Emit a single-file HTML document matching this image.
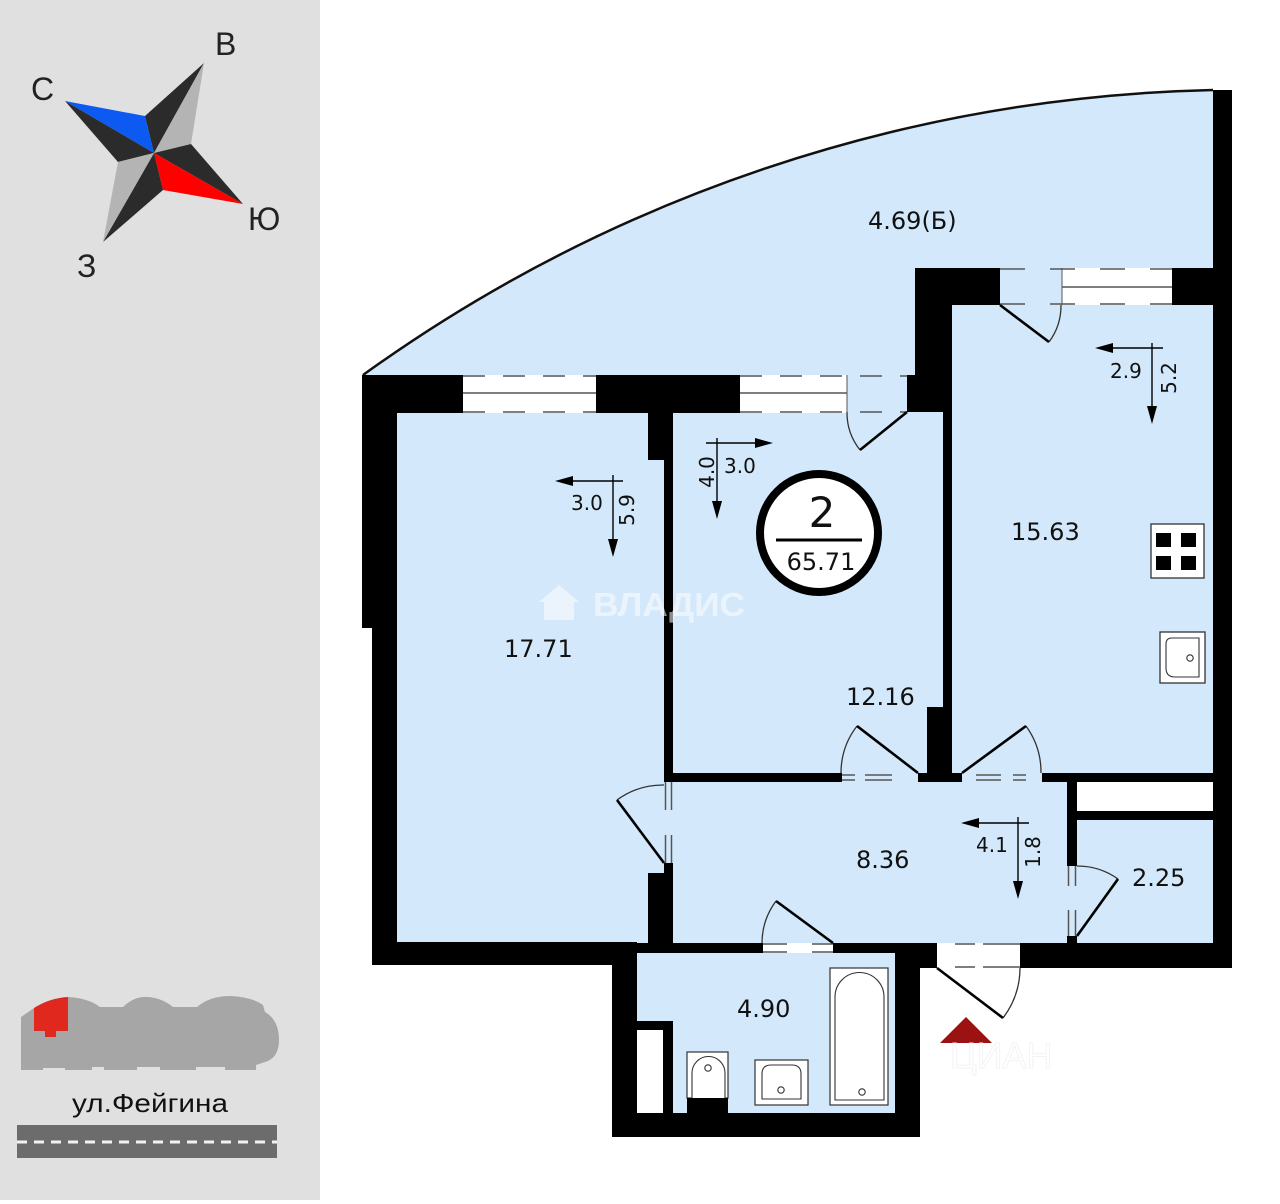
<!DOCTYPE html>
<html><head><meta charset="utf-8"><style>
html,body{margin:0;padding:0;background:#fff;}
svg{display:block;}
</style></head><body>
<svg width="1280" height="1204" viewBox="0 0 1280 1204" xmlns="http://www.w3.org/2000/svg">
<rect x="0" y="0" width="1280" height="1204" fill="#fff"/>
<!-- left panel -->
<rect x="0" y="0" width="320" height="1200" fill="#e0e0e0"/>
<!-- compass -->
<g>
<polygon points="65,101 145,116 154,153" fill="#0d5af2"/>
<polygon points="65,101 154,153 118,162" fill="#2b2b2b"/>
<polygon points="204,63 145,116 154,153" fill="#2b2b2b"/>
<polygon points="204,63 154,153 191,144" fill="#b4b4b4"/>
<polygon points="243,204 191,144 154,153" fill="#2b2b2b"/>
<polygon points="243,204 154,153 163,190" fill="#ff0000"/>
<polygon points="103,242 163,190 154,153" fill="#2b2b2b"/>
<polygon points="103,242 154,153 118,162" fill="#b4b4b4"/>
</g>
<g font-family="Liberation Sans, Arial, sans-serif" font-size="32" fill="#222">
<text x="31" y="100">С</text>
<text x="215" y="55">В</text>
<text x="248" y="230">Ю</text>
<text x="77" y="277">З</text>
</g>
<!-- building silhouette -->
<path d="M21,1070 L21,1017 L34,1008 Q50,998 68,997 Q88,998 100,1007 L123,1007 Q134,996 148,997 Q162,998 173,1007 L197,1007 Q210,996 230,996 Q252,997 263,1005 L265,1012 Q279,1020 279,1040 Q279,1058 265,1062 L256,1065 L256,1070 L225,1070 L225,1067 L196,1067 L196,1070 L160,1070 L160,1067 L137,1067 L137,1070 L104,1070 L104,1067 L92,1067 L92,1070 L65,1070 L65,1068 L43,1068 L43,1070 Z" fill="#a6a6a6"/>
<path d="M34,1008 Q50,998 68,997 L68,1031 L56,1031 L56,1037 L45,1037 L45,1031 L34,1031 Z" fill="#e0281e"/>
<text x="72" y="1112" font-family="Liberation Sans, Arial, sans-serif" font-size="26" fill="#111" textLength="156" lengthAdjust="spacingAndGlyphs">ул.Фейгина</text>
<rect x="17" y="1125" width="260" height="33" fill="#6c6c6c"/>
<line x1="17" y1="1142" x2="277" y2="1142" stroke="#f2f2f2" stroke-width="3" stroke-dasharray="10 7"/>

<!-- balcony -->
<path d="M363,375 A1512,1512 0 0 1 1213,90 L1213,268 L915,268 L915,375 Z" fill="#d3e8fa"/>
<path d="M363,375 A1512,1512 0 0 1 1213,90" fill="none" stroke="#111" stroke-width="2.5"/>
<text x="868" y="229" font-family="DejaVu Sans, Verdana, sans-serif" font-size="24" fill="#111">4.69(Б)</text>

<!-- interior fills -->
<rect x="397" y="412" width="816" height="531" fill="#d3e8fa"/>
<rect x="952" y="305" width="261" height="107" fill="#d3e8fa"/>
<rect x="637" y="953" width="258" height="160" fill="#d3e8fa"/>
<rect x="847" y="375" width="60" height="37" fill="#d3e8fa"/>
<rect x="1000" y="268" width="62" height="37" fill="#d3e8fa"/>

<!-- windows white -->
<rect x="463" y="375" width="133" height="38" fill="#fff"/>
<rect x="740" y="375" width="107" height="38" fill="#fff"/>
<rect x="1062" y="268" width="110" height="37" fill="#fff"/>
<rect x="1077" y="782" width="136" height="29" fill="#fff"/>
<rect x="937" y="943" width="83" height="25" fill="#fff"/>

<!-- walls -->
<g fill="#000">
<rect x="362" y="375" width="35" height="253"/>
<rect x="372" y="628" width="25" height="337"/>
<rect x="362" y="375" width="101" height="38"/>
<rect x="596" y="375" width="144" height="38"/>
<rect x="648" y="412" width="25" height="48"/>
<rect x="664" y="460" width="9" height="322"/>
<rect x="664" y="773" width="178" height="9"/>
<rect x="907" y="375" width="45" height="37"/>
<rect x="915" y="268" width="37" height="144"/>
<rect x="915" y="268" width="85" height="37"/>
<rect x="1172" y="268" width="60" height="37"/>
<rect x="1213" y="90" width="19" height="878"/>
<rect x="943" y="412" width="9" height="361"/>
<rect x="927" y="707" width="25" height="66"/>
<rect x="918" y="773" width="44" height="9"/>
<rect x="1042" y="773" width="190" height="9"/>
<rect x="1067" y="782" width="10" height="84"/>
<rect x="1067" y="811" width="146" height="9"/>
<rect x="1067" y="936" width="10" height="7"/>
<rect x="664" y="863" width="9" height="80"/>
<rect x="648" y="873" width="25" height="70"/>
<rect x="372" y="942" width="265" height="23"/>
<rect x="612" y="942" width="25" height="195"/>
<rect x="637" y="943" width="126" height="10"/>
<rect x="833" y="943" width="104" height="10"/>
<rect x="895" y="943" width="25" height="194"/>
<rect x="895" y="943" width="42" height="25"/>
<rect x="612" y="1113" width="308" height="24"/>
<rect x="1020" y="943" width="212" height="25"/>
<rect x="637" y="1021" width="36" height="92"/>
</g>
<rect x="637" y="1030" width="26" height="83" fill="#fff"/>

<!-- window / opening lines -->
<g stroke="#555" stroke-width="1.5" fill="none">
<line x1="463" y1="376" x2="596" y2="376" stroke-dasharray="22 18"/>
<line x1="463" y1="412" x2="596" y2="412" stroke-dasharray="22 18"/>
<line x1="463" y1="393" x2="596" y2="393"/>
<line x1="740" y1="376" x2="907" y2="376" stroke-dasharray="22 18"/>
<line x1="740" y1="412" x2="907" y2="412" stroke-dasharray="22 18"/>
<line x1="740" y1="393" x2="847" y2="393"/>
<line x1="847" y1="375" x2="847" y2="412" stroke-width="1"/>
<line x1="1000" y1="269" x2="1172" y2="269" stroke-dasharray="25 25"/>
<line x1="1000" y1="304" x2="1172" y2="304" stroke-dasharray="25 25"/>
<line x1="1062" y1="287" x2="1172" y2="287"/>
<line x1="1062" y1="268" x2="1062" y2="305" stroke-width="1"/>
<line x1="1077" y1="796" x2="1213" y2="796" stroke="#fff"/>
<!-- door openings double lines -->
<line x1="842" y1="775" x2="918" y2="775" stroke-dasharray="13 10 27 30"/>
<line x1="842" y1="780" x2="918" y2="780" stroke-dasharray="13 10 27 30"/>
<line x1="962" y1="775" x2="1042" y2="775" stroke-dasharray="0 14 25 12 13 20"/>
<line x1="962" y1="780" x2="1042" y2="780" stroke-dasharray="0 14 25 12 13 20"/>
<line x1="763" y1="944" x2="833" y2="944" stroke-dasharray="24 25 21 10"/>
<line x1="763" y1="952" x2="833" y2="952" stroke-dasharray="24 25 21 10"/>
<line x1="665.5" y1="782" x2="665.5" y2="863" stroke-dasharray="28 25 28"/>
<line x1="671.5" y1="782" x2="671.5" y2="863" stroke-dasharray="28 25 28"/>
<line x1="1068.5" y1="866" x2="1068.5" y2="936" stroke-dasharray="20 24 26"/>
<line x1="1075.5" y1="866" x2="1075.5" y2="936" stroke-dasharray="20 24 26"/>
<line x1="937" y1="944" x2="1020" y2="944" stroke-dasharray="0 18 20 8 37"/>
<line x1="937" y1="967" x2="1020" y2="967" stroke-dasharray="0 18 20 8 37"/>
</g>

<!-- door arcs -->
<g stroke="#333" stroke-width="1.3" fill="none">
<path d="M1049,342 A61,61 0 0 0 1061,305"/>
<path d="M860,450 A60,60 0 0 1 847,412"/>
<path d="M857,726 A77,77 0 0 0 841,773"/>
<path d="M1026,726 A79,79 0 0 1 1041,773"/>
<path d="M617,800 A78,78 0 0 1 664,785"/>
<path d="M776,901 A71,71 0 0 0 762,943"/>
<path d="M1118,879 A70,70 0 0 0 1077,866"/>
<path d="M1003,1018 A83,83 0 0 0 1020,968"/>
</g>
<!-- door leaves -->
<g stroke="#000" stroke-width="2.6" fill="none">
<line x1="1000" y1="305" x2="1049" y2="342"/>
<line x1="907" y1="412" x2="860" y2="450"/>
<line x1="918" y1="773" x2="857" y2="726"/>
<line x1="962" y1="773" x2="1026" y2="726"/>
<line x1="664" y1="863" x2="617" y2="800"/>
<line x1="833" y1="943" x2="776" y2="901"/>
<line x1="1077" y1="936" x2="1118" y2="879"/>
<line x1="937" y1="968" x2="1003" y2="1018"/>
</g>

<!-- kitchen fixtures -->
<rect x="1151" y="524" width="53" height="54" fill="#fff" stroke="#333" stroke-width="1.3"/>
<g fill="#000">
<rect x="1156" y="533" width="15" height="14"/>
<rect x="1181" y="533" width="15" height="14"/>
<rect x="1156" y="556" width="15" height="14"/>
<rect x="1181" y="556" width="15" height="14"/>
</g>
<rect x="1160" y="632" width="45" height="51" fill="#fff" stroke="#333" stroke-width="1.3"/>
<path d="M1172,638 H1199 V677 H1175 Q1166,677 1166,668 V644 Q1166,638 1172,638 Z" fill="#fff" stroke="#333" stroke-width="1.1"/>
<circle cx="1190" cy="658" r="3.2" fill="#fff" stroke="#333" stroke-width="1.1"/>

<!-- bath fixtures -->
<rect x="687" y="1052" width="41" height="46" fill="#fff" stroke="#333" stroke-width="1.2"/>
<rect x="687" y="1098" width="41" height="15" fill="#000"/>
<path d="M692,1098 V1073 A16.5,16.5 0 0 1 725,1073 V1098" fill="#fff" stroke="#333" stroke-width="1.1"/>
<circle cx="708" cy="1068" r="3.2" fill="#fff" stroke="#333" stroke-width="1.1"/>
<rect x="755" y="1060" width="53" height="45" fill="#fff" stroke="#333" stroke-width="1.2"/>
<path d="M762,1099 V1074 Q762,1065 771,1065 H792 Q801,1065 801,1074 V1099 Z" fill="#fff" stroke="#333" stroke-width="1.1"/>
<circle cx="781" cy="1090" r="3.2" fill="#fff" stroke="#333" stroke-width="1.1"/>
<rect x="830" y="968" width="58" height="137" fill="#fff" stroke="#333" stroke-width="1.2"/>
<path d="M835,1100 V997 A24.5,24.5 0 0 1 884,997 V1100 Z" fill="#fff" stroke="#333" stroke-width="1.1"/>
<circle cx="862" cy="1092" r="3.2" fill="#fff" stroke="#333" stroke-width="1.1"/>

<!-- watermark VLADIS -->
<g fill="#fff" opacity="0.55">
<path d="M559,585 L579,602 L574,602 L574,620 L544,620 L544,602 L539,602 Z"/>
<text x="593" y="616" font-family="Liberation Sans, Arial, sans-serif" font-weight="bold" font-size="33" textLength="152" lengthAdjust="spacingAndGlyphs">ВЛАДИС</text>
</g>

<!-- dimension arrows -->
<g stroke="#000" stroke-width="1.4">
<line x1="570" y1="481" x2="623" y2="481"/>
<line x1="613" y1="475" x2="613" y2="542"/>
<line x1="706" y1="443" x2="759" y2="443"/>
<line x1="717" y1="438" x2="717" y2="505"/>
<line x1="1110" y1="348" x2="1163" y2="348"/>
<line x1="1152" y1="343" x2="1152" y2="410"/>
<line x1="976" y1="823" x2="1029" y2="823"/>
<line x1="1018" y1="817" x2="1018" y2="885"/>
</g>
<g fill="#000">
<polygon points="555,481 573,476 573,486"/>
<polygon points="613,557 608,539 618,539"/>
<polygon points="773,443 755,438 755,448"/>
<polygon points="717,519 712,501 722,501"/>
<polygon points="1095,348 1113,343 1113,353"/>
<polygon points="1152,424 1147,406 1157,406"/>
<polygon points="961,823 979,818 979,828"/>
<polygon points="1018,899 1013,881 1023,881"/>
</g>
<g font-family="DejaVu Sans, Verdana, sans-serif" font-size="20" fill="#111">
<text x="571" y="510">3.0</text>
<text x="724" y="473">3.0</text>
<text x="1110" y="378">2.9</text>
<text x="976" y="852">4.1</text>
<text transform="translate(634,510) rotate(-90)" text-anchor="middle">5.9</text>
<text transform="translate(714,472) rotate(-90)" text-anchor="middle">4.0</text>
<text transform="translate(1176,378) rotate(-90)" text-anchor="middle">5.2</text>
<text transform="translate(1040,852) rotate(-90)" text-anchor="middle">1.8</text>
</g>

<!-- area labels -->
<g font-family="DejaVu Sans, Verdana, sans-serif" font-size="24" fill="#111">
<text x="504" y="657">17.71</text>
<text x="846" y="705">12.16</text>
<text x="1011" y="540">15.63</text>
<text x="856" y="868">8.36</text>
<text x="1132" y="886">2.25</text>
<text x="737" y="1017">4.90</text>
</g>

<!-- circle -->
<circle cx="819" cy="533" r="59" fill="#fff" stroke="#000" stroke-width="8"/>
<text x="822" y="527" text-anchor="middle" font-family="DejaVu Sans, Verdana, sans-serif" font-size="42" fill="#111">2</text>
<line x1="776" y1="540" x2="862" y2="540" stroke="#000" stroke-width="3"/>
<text x="821" y="570" text-anchor="middle" font-family="DejaVu Sans, Verdana, sans-serif" font-size="24" fill="#111">65.71</text>

<!-- entrance marker -->
<polygon points="966,1017 940,1043 992,1043" fill="#9c1212"/>
<text x="950" y="1068" font-family="Liberation Sans, Arial, sans-serif" font-size="36" fill="none" stroke="#f3f3f3" stroke-width="1">ЦИАН</text>
</svg>
</body></html>
